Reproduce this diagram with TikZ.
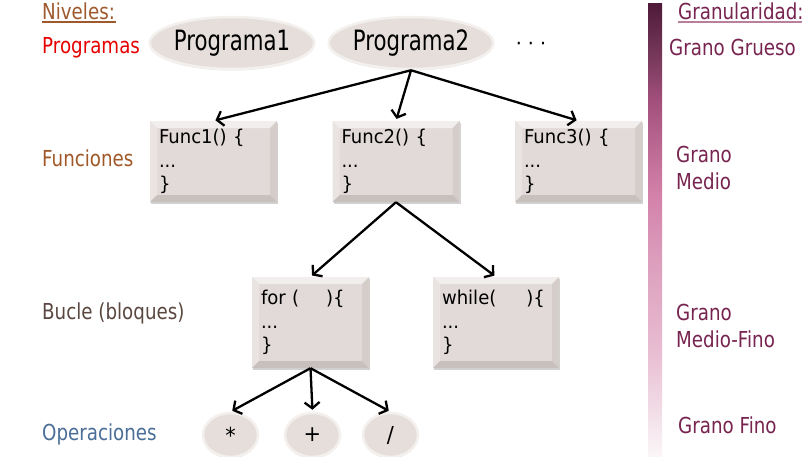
\documentclass[tikz,border=0pt]{standalone}
\usepackage{fontspec}
\setmainfont{DejaVu Sans}
\newfontfamily\labfont[FakeStretch=0.83]{DejaVu Sans}
\newfontfamily\ellfont[FakeStretch=0.76]{DejaVu Sans}
\newfontfamily\codefont[FakeStretch=0.95]{DejaVu Sans}
\usetikzlibrary{shapes.geometric,arrows.meta,shadows}
\definecolor{nivbrown}{RGB}{158,90,44}
\definecolor{progred}{RGB}{230,0,0}
\definecolor{funcbrown}{RGB}{160,88,40}
\definecolor{buclegray}{RGB}{90,72,64}
\definecolor{opblue}{RGB}{74,110,152}
\definecolor{granc}{RGB}{120,36,80}
\definecolor{granline}{RGB}{184,128,156}
\definecolor{boxfill}{RGB}{225,218,216}
\definecolor{bevlight}{RGB}{241,238,237}
\definecolor{bevmid}{RGB}{233,228,226}
\definecolor{bevdark}{RGB}{212,205,202}
\definecolor{bevdarker}{RGB}{200,192,189}
\definecolor{ellfill}{RGB}{229,222,219}
\definecolor{ellrim}{RGB}{243,240,238}
\definecolor{bA}{RGB}{78,26,58}
\definecolor{bB}{RGB}{122,58,94}
\definecolor{bC}{RGB}{162,79,124}
\definecolor{bD}{RGB}{210,127,168}
\definecolor{bE}{RGB}{220,158,189}
\definecolor{bF}{RGB}{232,188,209}
\definecolor{bG}{RGB}{243,226,234}
\definecolor{bH}{RGB}{251,246,248}
\pgfdeclareverticalshading{barshade}{100bp}{color(0bp)=(bH); color(25bp)=(bH); color(29bp)=(bG); color(36.7bp)=(bF); color(46.5bp)=(bE); color(54.35bp)=(bD); color(64.3bp)=(bC); color(68.7bp)=(bB); color(75bp)=(bA); color(100bp)=(bA)}
\tikzset{
  lab/.style={anchor=base west, inner sep=0pt, font=\labfont\fontsize{22}{26}\selectfont},
  bevelbox/.style={rectangle, fill=boxfill, inner xsep=9pt, inner ysep=0pt, align=left,
    font=\codefont\fontsize{19}{23.5}\selectfont,
    drop shadow={shadow xshift=1pt, shadow yshift=-2pt, opacity=0.35, fill=gray},
    path picture={
      \path (path picture bounding box.north west) coordinate (bnw)
            (path picture bounding box.north east) coordinate (bne)
            (path picture bounding box.south west) coordinate (bsw)
            (path picture bounding box.south east) coordinate (bse);
      \fill[bevlight] (bnw) -- (bne) -- ([shift={(-7pt,-7pt)}]bne) -- ([shift={(7pt,-7pt)}]bnw) -- cycle;
      \fill[bevmid] (bnw) -- ([shift={(7pt,-7pt)}]bnw) -- ([shift={(7pt,7pt)}]bsw) -- (bsw) -- cycle;
      \fill[bevdark] (bne) -- (bse) -- ([shift={(-7pt,7pt)}]bse) -- ([shift={(-7pt,-7pt)}]bne) -- cycle;
      \fill[bevdarker] (bsw) -- ([shift={(7pt,7pt)}]bsw) -- ([shift={(-7pt,7pt)}]bse) -- (bse) -- cycle;
    }},
  ell/.style={ellipse, fill=ellfill, draw=ellrim, line width=2.5pt, inner sep=0pt,
    drop shadow={shadow xshift=0pt, shadow yshift=-1.5pt, opacity=0.2, fill=gray}},
  arr/.style={line width=2.3pt, -{Straight Barb[length=6pt,width=15pt]}, shorten >=2pt}
}
\begin{document}
\begin{tikzpicture}[x=1pt,y=-1pt]
\useasboundingbox (0,0) rectangle (805,456);
\fill[white] (0,0) rectangle (805,456);

% left labels
\node[lab, text=nivbrown] (niv) at (42,19) {Niveles:};
\draw[nivbrown, line width=1.3pt] (niv.base west) ++(0,3) -- ++(74,0);
\node[lab, text=progred] (lprog) at (42,53) {Programas};
\node[lab, text=funcbrown] (lfunc) at (42,166) {Funciones};
\node[lab, text=buclegray] (lbucle) at (42,319) {Bucle (bloques)};
\node[lab, text=opblue] (lop) at (42,440) {Operaciones};

% programs
\node[ell, minimum width=148pt, minimum height=52pt, font=\ellfont\fontsize{28}{30}\selectfont] (p1) at (232,43) {Programa1};
\node[ell, minimum width=148pt, minimum height=52pt, font=\ellfont\fontsize{28}{30}\selectfont] (p2) at (411,43) {Programa2};
\node[anchor=base, inner sep=0pt, font=\codefont\fontsize{20}{22}\selectfont] (dots) at (531,50) {· · ·};

% functions
\node[bevelbox, minimum width=127pt, minimum height=81pt, text width=109pt] (f1) at (213.5,161.5) {Func1() \{\\...\\\}};
\node[bevelbox, minimum width=127pt, minimum height=81pt, text width=109pt] (f2) at (396,161.5) {Func2() \{\\...\\\}};
\node[bevelbox, minimum width=127pt, minimum height=81pt, text width=109pt] (f3) at (578.5,161.5) {Func3() \{\\...\\\}};

% loops
\node[bevelbox, minimum width=117pt, minimum height=91pt, text width=99pt] (fo) at (310.5,322.5) {for (\hspace{27pt})\{\\...\\\}};
\node[bevelbox, minimum width=126pt, minimum height=91pt, text width=108pt] (wh) at (496,322.5) {while(\hspace{30pt})\{\\...\\\}};

% operations
\node[ell, minimum width=55pt, minimum height=44pt, font=\codefont\fontsize{22}{22}\selectfont] (o1) at (230.5,435) {*};
\node[ell, minimum width=55pt, minimum height=44pt, font=\codefont\fontsize{22}{22}\selectfont] (o2) at (312.5,435) {+};
\node[ell, minimum width=55pt, minimum height=44pt, font=\codefont\fontsize{22}{22}\selectfont] (o3) at (390.5,435) {/};

% arrows
\draw[arr] (p2.south) -- (f1.north);
\draw[arr] (p2.south) -- (f2.north);
\draw[arr] (p2.south) -- (f3.north);
\draw[arr] (f2.south) -- (fo.north);
\draw[arr] (f2.south) -- (wh.north);
\draw[arr] (fo.south) -- (o1.north);
\draw[arr] (fo.south) -- (o2.north);
\draw[arr] (fo.south) -- (o3.north);

% granularity bar
\shade[shading=barshade] (648,3) rectangle (662,456);
\node[lab, text=granc] (gran) at (678,19) {Granularidad:};
\draw[granline, line width=1.3pt] (gran.base west) ++(0,3) -- ++(124,0);
\node[lab, text=granc] (g1) at (669,55) {Grano Grueso};
\node[lab, text=granc, align=left, anchor=north west, font=\labfont\fontsize{22}{27}\selectfont] (g2) at (676,146) {Grano\\Medio};
\node[lab, text=granc, align=left, anchor=north west, font=\labfont\fontsize{22}{27}\selectfont] (g3) at (676,304) {Grano\\Medio-Fino};
\node[lab, text=granc] (g4) at (678,433) {Grano Fino};
\end{tikzpicture}
\end{document}
